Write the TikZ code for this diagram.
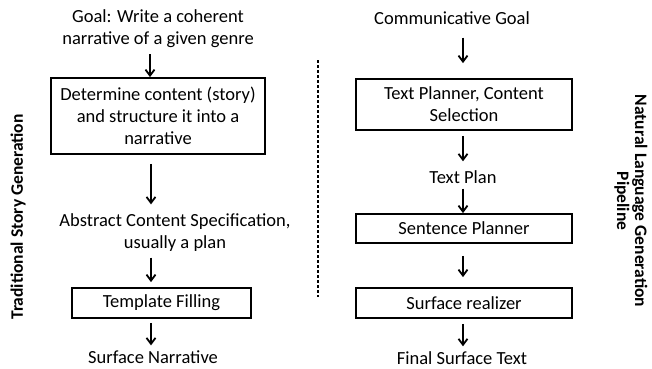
\documentclass[tikz,border=0pt]{standalone}
\usepackage{fontspec}
\setmainfont{Carlito}
\usetikzlibrary{arrows.meta}

\tikzset{
  txt/.style={font=\fontsize{18.5}{22}\selectfont, align=center, inner sep=0pt},
  stage/.style={txt, draw, line width=1.8pt, inner sep=4pt},
  arr/.style={-{Straight Barb[length=6pt,width=9pt]}, line width=1.8pt},
  side/.style={font=\fontsize{17.5}{18}\selectfont\bfseries, align=center, inner sep=0pt}
}

\begin{document}
\begin{tikzpicture}[x=1pt,y=-1pt]
\useasboundingbox (0,0) rectangle (652,368);

% left column: story generation
\coordinate (colL) at (151,0);
\node[txt] (goalL) at (158,29) {Goal: Write a coherent\\narrative of a given genre};
\node[stage, minimum width=214pt, minimum height=76pt] (content) at (158,116) {Determine content (story)\\and structure it into a\\narrative};
\node[txt] (spec) at (175,232.5) {Abstract Content Specification,\\usually a plan};
\node[stage, minimum width=179pt, minimum height=30pt] (template) at (161.5,303) {Template Filling};
\node[txt] (narr) at (153,357) {Surface Narrative};

\draw[arr] ([yshift=-6pt]goalL.south -| 150,0) -- (content.north -| 150,0);
\draw[arr] ([yshift=-9pt]content.south -| colL) -- ([yshift=9pt]spec.north -| colL);
\draw[arr] ([yshift=-6pt]spec.south -| colL) -- ([yshift=5pt]template.north -| colL);
\draw[arr] ([yshift=-4pt]template.south -| colL) -- ([yshift=5pt]narr.north -| colL);

% separator
\draw[dashed, dash pattern=on 3pt off 2pt, line width=1.2pt] (318,60) -- (318,297);

% right column: NLG pipeline
\coordinate (colR) at (463,0);
\node[txt] (goalR) at (452,18) {Communicative Goal};
\node[stage, minimum width=216pt, minimum height=51pt] (planner) at (464,104.5) {Text Planner, Content\\Selection};
\node[txt] (plan) at (463,177) {Text Plan};
\node[stage, minimum width=216pt, minimum height=29pt] (sentence) at (464,228.5) {Sentence Planner};
\node[stage, minimum width=216pt, minimum height=30pt] (realizer) at (464,303) {Surface realizer};
\node[txt] (final) at (462,358) {Final Surface Text};

\draw[arr] ([yshift=-13pt]goalR.south -| colR) -- ([yshift=15pt]planner.north -| colR);
\draw[arr] ([yshift=-5pt]planner.south -| colR) -- ([yshift=9pt]plan.north -| colR);
\draw[arr] ([yshift=-5pt]plan.south -| colR) -- (sentence.north -| colR);
\draw[arr] ([yshift=-12pt]sentence.south -| colR) -- ([yshift=10pt]realizer.north -| colR);
\draw[arr] ([yshift=-5pt]realizer.south -| colR) -- ([yshift=5pt]final.north -| colR);

% side labels
\node[side, rotate=90] (lblL) at (18,217) {Traditional Story Generation};
\node[side, rotate=-90] (lblR) at (631,201) {Natural Language Generation\\Pipeline};
\end{tikzpicture}
\end{document}
